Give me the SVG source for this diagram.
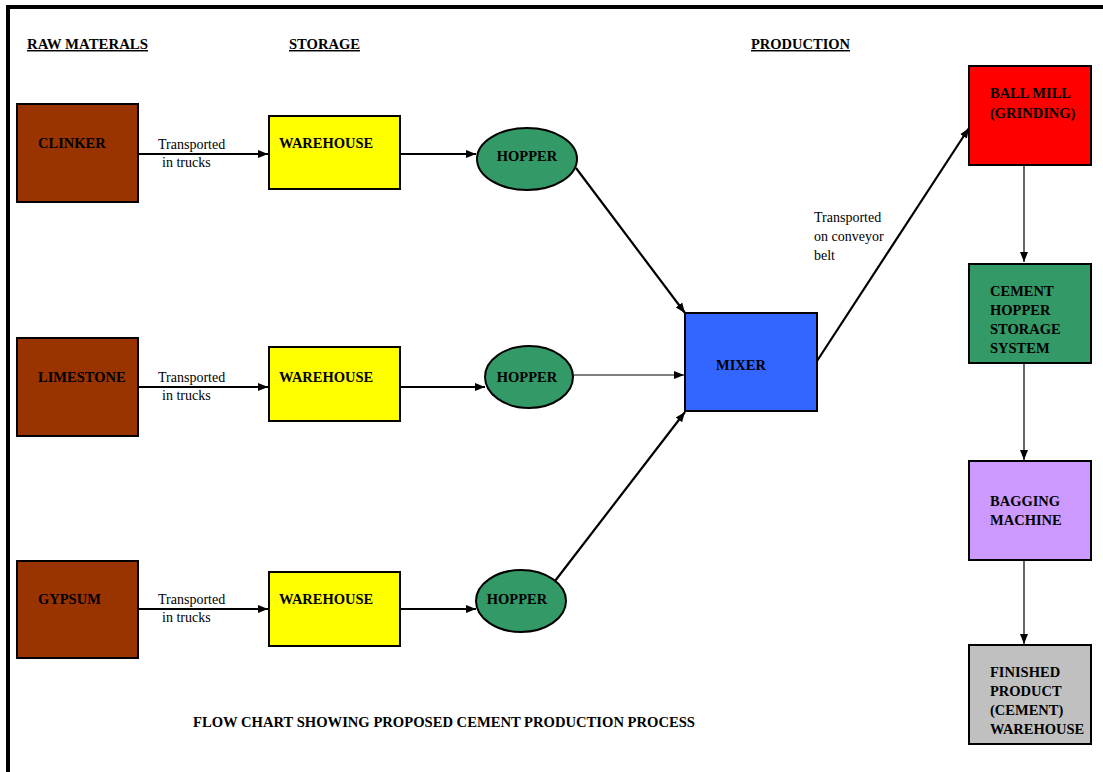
<svg xmlns="http://www.w3.org/2000/svg" width="1103" height="772" viewBox="0 0 1103 772">
<style>
.box{stroke:#000;stroke-width:2}
.lbl{font-family:"Liberation Serif","Times New Roman",serif;font-weight:bold;font-size:14.5px;fill:#000}
.hdr{font-family:"Liberation Serif","Times New Roman",serif;font-weight:bold;font-size:14.5px;fill:#000;text-decoration:underline}
.note{font-family:"Liberation Serif","Times New Roman",serif;font-size:14px;fill:#000}
.c{stroke:#000;fill:none}
.thick{stroke-width:2.2}
.thin{stroke-width:1.2}
</style>
<defs>
<marker id="ah" markerUnits="userSpaceOnUse" markerWidth="10" markerHeight="10" viewBox="0 0 10 10" refX="10" refY="5" orient="auto">
<path d="M0,1 L10,5 L0,9 Z" fill="#000"/>
</marker>
</defs>
<rect width="1103" height="772" fill="#fff"/>
<g id="frame">
<rect x="6" y="5" width="1097" height="4" fill="#000"/>
<rect x="6" y="5" width="4" height="767" fill="#000"/>
</g>
<g id="headers">
<text class="hdr" x="27" y="49" textLength="121" lengthAdjust="spacingAndGlyphs">RAW MATERALS</text>
<text class="hdr" x="289" y="49" textLength="71" lengthAdjust="spacingAndGlyphs">STORAGE</text>
<text class="hdr" x="751" y="49" textLength="99" lengthAdjust="spacingAndGlyphs">PRODUCTION</text>
</g>
<g id="connectors">
<line class="c thick" x1="139" y1="154" x2="268" y2="154" marker-end="url(#ah)"/>
<line class="c thick" x1="139" y1="387" x2="268" y2="387" marker-end="url(#ah)"/>
<line class="c thick" x1="139" y1="609" x2="268" y2="609" marker-end="url(#ah)"/>
<line class="c thick" x1="401" y1="154" x2="476" y2="154" marker-end="url(#ah)"/>
<line class="c thick" x1="401" y1="387" x2="485" y2="387" marker-end="url(#ah)"/>
<line class="c thick" x1="401" y1="609" x2="476" y2="609" marker-end="url(#ah)"/>
<line class="c thick" x1="576" y1="168" x2="685" y2="313" marker-end="url(#ah)"/>
<line class="c thin" x1="573" y1="375" x2="684" y2="375" marker-end="url(#ah)"/>
<line class="c thick" x1="555" y1="581" x2="685" y2="412" marker-end="url(#ah)"/>
<line class="c thick" x1="817" y1="361" x2="969" y2="128" marker-end="url(#ah)"/>
<line class="c thin" x1="1024" y1="165" x2="1024" y2="262" marker-end="url(#ah)"/>
<line class="c thin" x1="1024" y1="363" x2="1024" y2="460" marker-end="url(#ah)"/>
<line class="c thin" x1="1024" y1="560" x2="1024" y2="644" marker-end="url(#ah)"/>
<text class="note" x="158" y="149">Transported</text>
<text class="note" x="162" y="167">in trucks</text>
<text class="note" x="158" y="382">Transported</text>
<text class="note" x="162" y="400">in trucks</text>
<text class="note" x="158" y="604">Transported</text>
<text class="note" x="162" y="622">in trucks</text>
<text class="note" x="814" y="222">Transported</text>
<text class="note" x="814" y="241">on conveyor</text>
<text class="note" x="814" y="260">belt</text>
</g>
<g id="clinker">
<rect class="box" x="17" y="104" width="121" height="98" fill="#993300"/>
<text class="lbl" x="38" y="148">CLINKER</text>
</g>
<g id="limestone">
<rect class="box" x="17" y="338" width="121" height="98" fill="#993300"/>
<text class="lbl" x="38" y="382">LIMESTONE</text>
</g>
<g id="gypsum">
<rect class="box" x="17" y="561" width="121" height="97" fill="#993300"/>
<text class="lbl" x="38" y="604">GYPSUM</text>
</g>
<g id="warehouse1">
<rect class="box" x="269" y="116" width="131" height="73" fill="#FFFF00"/>
<text class="lbl" x="279" y="148">WAREHOUSE</text>
</g>
<g id="warehouse2">
<rect class="box" x="269" y="347" width="131" height="74" fill="#FFFF00"/>
<text class="lbl" x="279" y="382">WAREHOUSE</text>
</g>
<g id="warehouse3">
<rect class="box" x="269" y="572" width="131" height="74" fill="#FFFF00"/>
<text class="lbl" x="279" y="604">WAREHOUSE</text>
</g>
<g id="hopper1">
<ellipse class="box" cx="527" cy="159" rx="50" ry="31" fill="#339966"/>
<text class="lbl" x="527" y="161" text-anchor="middle">HOPPER</text>
</g>
<g id="hopper2">
<ellipse class="box" cx="529" cy="377" rx="44" ry="31" fill="#339966"/>
<text class="lbl" x="527" y="382" text-anchor="middle">HOPPER</text>
</g>
<g id="hopper3">
<ellipse class="box" cx="521" cy="601" rx="45" ry="31" fill="#339966"/>
<text class="lbl" x="517" y="604" text-anchor="middle">HOPPER</text>
</g>
<g id="mixer">
<rect class="box" x="685" y="313" width="132" height="98" fill="#3366FF"/>
<text class="lbl" x="716" y="370">MIXER</text>
</g>
<g id="ballmill">
<rect class="box" x="969" y="66" width="122" height="99" fill="#FF0000"/>
<text class="lbl" x="990" y="98">BALL MILL</text>
<text class="lbl" x="990" y="118">(GRINDING)</text>
</g>
<g id="cementhopper">
<rect class="box" x="969" y="264" width="122" height="99" fill="#339966"/>
<text class="lbl" x="990" y="296">CEMENT</text>
<text class="lbl" x="990" y="315">HOPPER</text>
<text class="lbl" x="990" y="334">STORAGE</text>
<text class="lbl" x="990" y="353">SYSTEM</text>
</g>
<g id="bagging">
<rect class="box" x="969" y="461" width="122" height="99" fill="#CC99FF"/>
<text class="lbl" x="990" y="506">BAGGING</text>
<text class="lbl" x="990" y="525">MACHINE</text>
</g>
<g id="finished">
<rect class="box" x="969" y="645" width="122" height="99" fill="#C0C0C0"/>
<text class="lbl" x="990" y="677">FINISHED</text>
<text class="lbl" x="990" y="696">PRODUCT</text>
<text class="lbl" x="990" y="715">(CEMENT)</text>
<text class="lbl" x="990" y="734">WAREHOUSE</text>
</g>
<g id="title">
<text class="lbl" x="193" y="727" textLength="502" lengthAdjust="spacingAndGlyphs">FLOW CHART SHOWING PROPOSED CEMENT PRODUCTION PROCESS</text>
</g>
</svg>
